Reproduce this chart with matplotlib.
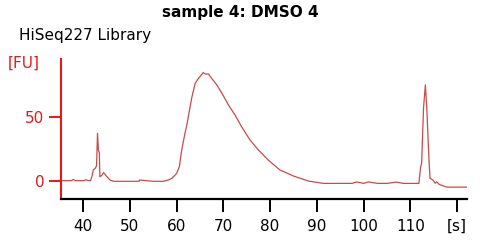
import matplotlib
matplotlib.use('Agg')
import matplotlib.pyplot as plt

# electropherogram trace: time [s] and fluorescence [FU]
time_s = [35.4, 36.5, 37.5, 37.9, 38.4, 39.5, 40.2, 40.6, 41.2, 41.6, 41.9, 42.2, 42.6,
          42.9, 43.1, 43.3, 43.5, 43.6, 44.0, 44.4, 44.6, 45.1, 45.8, 46.5,
          50.0, 52.0, 52.1, 55.0, 57.2, 58.2, 59.0, 60.0, 60.6, 61.1, 61.8,
          62.2, 62.9, 63.3, 64.0, 64.7, 65.2, 65.7, 66.2, 66.8, 67.5, 68.6,
          69.7, 71.1, 72.5, 73.9, 75.7, 77.5, 79.6, 82.1, 85.0, 88.2, 91.4,
          95.0, 97.5, 98.5, 100.0, 101.0, 103.0, 105.0, 107.0, 108.5, 110.0,
          111.8, 112.2, 112.4, 112.8, 113.2, 113.5, 114.0, 114.2, 114.8,
          115.3, 115.6, 116.2, 117.0, 117.8, 122.0]
fu = [0.5, 0.5, 0.5, 1.5, 0.5, 0.5, 0.5, 1.2, 0.5, 0.5, 3.6, 8.8, 10.0,
      12.0, 37.2, 24.0, 22.0, 3.6, 4.5, 6.7, 6.0, 3.6, 1.0, 0.0,
      0.0, 0.0, 1.0, 0.0, 0.0, 1.0, 2.3, 6.0, 11.3, 24.3, 37.2,
      43.6, 57.8, 65.6, 76.0, 79.8, 82.0, 84.2, 83.0, 83.2, 79.8, 74.7,
      68.2, 59.1, 51.4, 42.3, 32.0, 24.3, 16.5, 8.8, 4.1, 0.2, -1.6,
      -1.6, -1.6, -0.5, -1.6, -0.5, -1.6, -1.6, -0.6, -1.6, -1.6,
      -1.6, 11.3, 14.0, 56.6, 74.7, 56.6, 14.0, 2.3, 1.0,
      -1.5, -0.3, -2.5, -3.5, -4.5, -4.5]

x_ticks = [40, 50, 60, 70, 80, 90, 100, 110, 120]
x_labels = ['40', '50', '60', '70', '80', '90', '100', '110', '[s]']
y_ticks = [0, 50]

red = '#e31a1a'
trace = '#c94a4a'

fig = plt.figure(figsize=(4.82, 2.43), dpi=100)
ax = fig.add_axes([0.1266, 0.18, 0.8423, 0.576])

ax.plot(time_s, fu, color=trace, lw=0.9)

ax.set_xlim(35.3, 122.1)
ax.set_ylim(-13.9, 94.5)

ax.spines['top'].set_visible(False)
ax.spines['right'].set_visible(False)
ax.spines['left'].set_color(red)
ax.spines['left'].set_linewidth(1.5)
ax.spines['bottom'].set_linewidth(1.6)

ax.set_xticks(x_ticks)
ax.set_xticklabels(x_labels)
ax.set_yticks(y_ticks)
ax.tick_params(axis='x', direction='out', length=9, width=1.4, labelsize=11, pad=5)
ax.tick_params(axis='y', direction='out', length=9, width=1.4, labelsize=11,
               colors=red, pad=3)

fig.text(0.498, 0.95, 'sample 4: DMSO 4', ha='center', va='center',
         fontsize=11, fontweight='bold')
fig.text(0.04, 0.855, 'HiSeq227 Library', ha='left', va='center', fontsize=11)
fig.text(0.016, 0.74, '[FU]', ha='left', va='center', fontsize=11, color=red)

fig.savefig('out.png', dpi=100)
